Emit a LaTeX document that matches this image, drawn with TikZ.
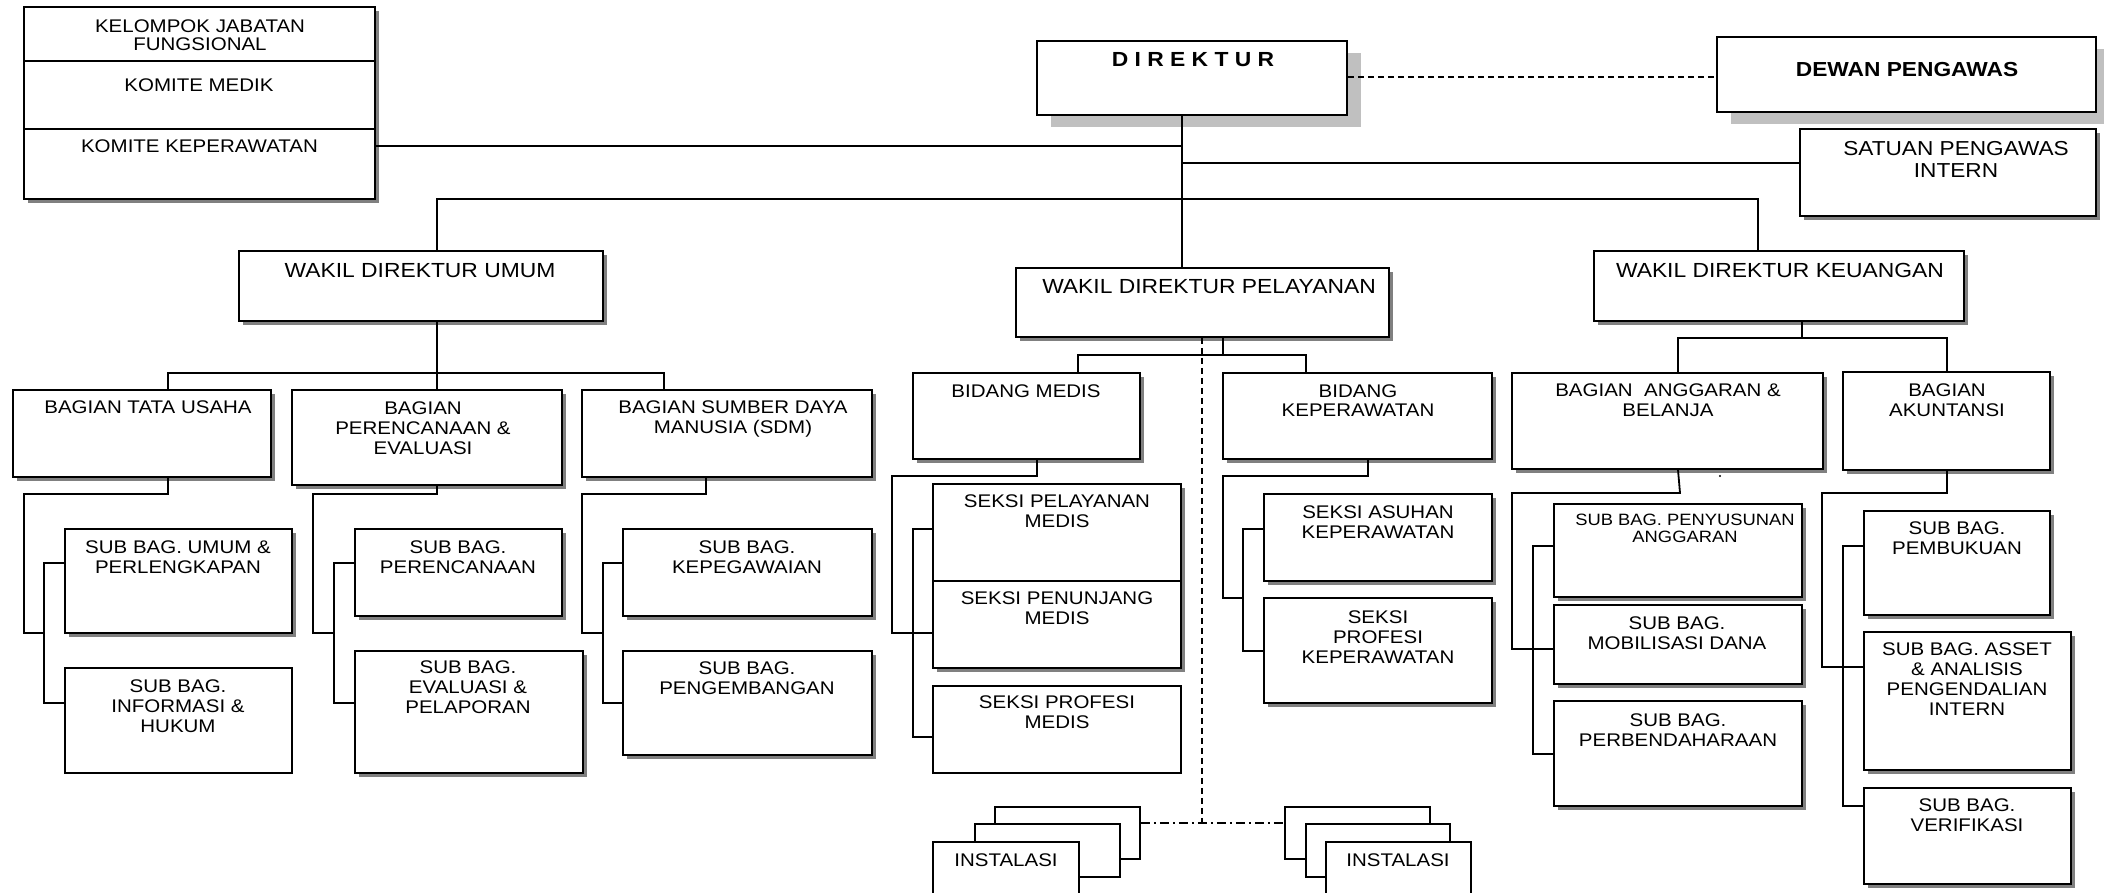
\documentclass[tikz,border=0pt]{standalone}
\usepackage{fontspec}
\setmainfont{Liberation Sans}[FakeStretch=1.12]
\usetikzlibrary{fit,shadows}
\definecolor{shd}{RGB}{128,128,128}
\definecolor{lshd}{RGB}{192,192,192}
\newcommand\fr{\fontsize{18.3}{20}\selectfont}
\tikzset{
  bx/.style={draw=black, fill=white, line width=1.8pt, inner sep=0pt},
  shbox/.style={bx, general shadow={fill=shd, shadow xshift=4pt, shadow yshift=-4pt}},
  lshbox/.style={bx, general shadow={fill=lshd, shadow xshift=14pt, shadow yshift=-12pt}},
  ln/.style={line width=1.8pt},
  dsh/.style={line width=1.6pt, dash pattern=on 6pt off 4pt},
  dd/.style={line width=1.6pt, dash pattern=on 9pt off 4pt on 2pt off 4pt},
  txt/.style={inner sep=0pt, align=center, anchor=north, font=\fr},
  wak/.style={font=\fontsize{20.4}{22}\selectfont},
  bld/.style={font=\fontsize{20.4}{22}\selectfont\bfseries},
}
\newcommand\bx[6][shbox]{\node[#1, fit={(#3,#4) (#5,#6)}] (#2) {};}
\newcommand\tx[5][]{\node[txt,#1] (#2) at (#3,{#4-16}) {\rule{0pt}{16pt}#5};}
\begin{document}
\begin{tikzpicture}[x=1pt,y=-1pt]
\path[use as bounding box, fill=white] (0,0) rectangle (2104,892);

% ---------- top level ----------
\bx{kel}{24}{7}{375}{199}
\draw[ln] (kel.west |- 0,61) -- (kel.east |- 0,61);
\draw[ln] (kel.west |- 0,129) -- (kel.east |- 0,129);
\tx[font=\fontsize{18.3}{18}\selectfont]{tkel1}{200}{32}{KELOMPOK JABATAN\\FUNGSIONAL}
\tx{tkel2}{199}{91}{KOMITE MEDIK}
\tx{tkel3}{199.5}{152}{KOMITE KEPERAWATAN}

\bx[lshbox]{dir}{1037}{41}{1347}{115}
\tx[bld]{tdir}{1193}{66}{D I R E K T U R}
\bx[lshbox]{dew}{1717}{37}{2096}{112}
\tx[bld,font=\fontsize{20.3}{22}\selectfont\bfseries]{tdew}{1907}{76}{DEWAN PENGAWAS}
\bx{spi}{1800}{129}{2096}{216}
\tx[font=\fontsize{20.2}{22}\selectfont]{tspi}{1956}{155}{SATUAN PENGAWAS\\INTERN}

\bx{wu}{239}{251}{603}{321}
\tx[wak]{twu}{420}{277}{WAKIL DIREKTUR UMUM}
\bx{wp}{1016}{268}{1389}{337}
\tx[wak]{twp}{1209}{293}{WAKIL DIREKTUR PELAYANAN}
\bx{wk}{1594}{251}{1964}{321}
\tx[wak]{twk}{1780}{277}{WAKIL DIREKTUR KEUANGAN}

% ---------- umum ----------
\bx{tu}{13}{390}{271}{477}
\tx{ttu}{148}{413}{BAGIAN TATA USAHA}
\bx{pe}{292}{390}{562}{485}
\tx{tpe}{423}{414}{BAGIAN\\PERENCANAAN \&\\EVALUASI}
\bx{sdm}{582}{390}{872}{477}
\tx{tsdm}{733}{413}{BAGIAN SUMBER DAYA\\MANUSIA (SDM)}

\bx{sbu}{65}{529}{292}{633}
\tx{tsbu}{178}{553}{SUB BAG. UMUM \&\\PERLENGKAPAN}
\bx[bx]{sbi}{65}{668}{292}{773}
\tx{tsbi}{178}{692}{SUB BAG.\\INFORMASI \&\\HUKUM}
\bx{sbp}{355}{529}{562}{616}
\tx{tsbp}{458}{553}{SUB BAG.\\PERENCANAAN}
\bx{sbe}{355}{651}{583}{773}
\tx{tsbe}{468}{673}{SUB BAG.\\EVALUASI \&\\PELAPORAN}
\bx{sbk}{623}{529}{872}{616}
\tx{tsbk}{747}{553}{SUB BAG.\\KEPEGAWAIAN}
\bx{sbg}{623}{651}{872}{755}
\tx{tsbg}{747}{674}{SUB BAG.\\PENGEMBANGAN}

% ---------- pelayanan ----------
\bx{bm}{913}{373}{1140}{459}
\tx{tbm}{1026}{397}{BIDANG MEDIS}
\bx{bk}{1223}{373}{1492}{459}
\tx[font=\fontsize{18.3}{19}\selectfont]{tbk}{1358}{397}{BIDANG\\KEPERAWATAN}
\bx{spm}{933}{484}{1181}{581}
\tx{tspm}{1057}{507}{SEKSI PELAYANAN\\MEDIS}
\bx{spn}{933}{581}{1181}{668}
\tx{tspn}{1057}{604}{SEKSI PENUNJANG\\MEDIS}
\bx[bx]{spf}{933}{686}{1181}{773}
\tx{tspf}{1057}{708}{SEKSI PROFESI\\MEDIS}
\bx{sak}{1264}{494}{1492}{581}
\tx{tsak}{1378}{518}{SEKSI ASUHAN\\KEPERAWATAN}
\bx{spk}{1264}{598}{1492}{703}
\tx{tspk}{1378}{623}{SEKSI\\PROFESI\\KEPERAWATAN}

% instalasi stacks
\bx[bx]{il1}{995}{807}{1140}{859}
\bx[bx]{il2}{975}{824}{1120}{877}
\bx[bx]{il3}{933}{842}{1079}{910}
\tx{til}{1006}{866}{INSTALASI}
\bx[bx]{ir1}{1285}{807}{1430}{859}
\bx[bx]{ir2}{1306}{824}{1450}{877}
\bx[bx]{ir3}{1326}{842}{1471}{910}
\tx{tir}{1398}{866}{INSTALASI}

% ---------- keuangan ----------
\bx{ba}{1512}{373}{1823}{469}
\tx{tba}{1668}{396}{BAGIAN\ \ ANGGARAN \&\\BELANJA}
\bx{bak}{1843}{372}{2050}{470}
\tx{tbak}{1947}{396}{BAGIAN\\AKUNTANSI}
\bx{sbpa}{1554}{504}{1802}{597}
\tx[font=\fontsize{16.4}{17}\selectfont]{tsbpa}{1685}{525}{SUB BAG. PENYUSUNAN\\ANGGARAN}
\bx{sbm}{1554}{605}{1802}{684}
\tx{tsbm}{1677}{629}{SUB BAG.\\MOBILISASI DANA}
\bx{sbb}{1554}{701}{1802}{806}
\tx{tsbb}{1678}{726}{SUB BAG.\\PERBENDAHARAAN}
\bx{sbpb}{1864}{511}{2050}{615}
\tx{tsbpb}{1957}{534}{SUB BAG.\\PEMBUKUAN}
\bx{sba}{1864}{632}{2071}{770}
\tx{tsba}{1967}{655}{SUB BAG. ASSET\\\& ANALISIS\\PENGENDALIAN\\INTERN}
\bx{sbv}{1864}{788}{2071}{884}
\tx{tsbv}{1967}{811}{SUB BAG.\\VERIFIKASI}

% ---------- connectors ----------
\draw[ln] (dir.south -| 1182,0) -- (wp.north -| 1182,0);
\draw[ln] (kel.east |- 0,146) -- (1182,146);
\draw[ln] (1182,163) -- (spi.west |- 0,163);
\draw[ln] (wu.north -| 437,0) -- (437,199) -- (1758,199) -- (wk.north -| 1758,0);
\draw[dsh] (dir.east |- 0,77) -- (dew.west |- 0,77);

\draw[ln] (wu.south -| 437,0) -- (pe.north -| 437,0);
\draw[ln] (tu.north -| 168,0) -- (168,373) -- (664,373) -- (sdm.north -| 664,0);
\draw[ln] (tu.south -| 168,0) -- (168,494) -- (24,494) -- (24,633) -- (44,633);
\draw[ln] (sbu.west |- 0,563) -- (44,563) -- (44,703) -- (sbi.west |- 0,703);
\draw[ln] (pe.south -| 437,0) -- (437,494) -- (313,494) -- (313,633) -- (334,633);
\draw[ln] (sbp.west |- 0,563) -- (334,563) -- (334,703) -- (sbe.west |- 0,703);
\draw[ln] (sdm.south -| 706,0) -- (706,494) -- (582,494) -- (582,633) -- (603,633);
\draw[ln] (sbk.west |- 0,563) -- (603,563) -- (603,703) -- (sbg.west |- 0,703);

\draw[ln] (wp.south -| 1223,0) -- (1223,355);
\draw[ln] (bm.north -| 1078,0) -- (1078,355) -- (1306,355) -- (bk.north -| 1306,0);
\draw[ln] (bm.south -| 1037,0) -- (1037,476) -- (892,476) -- (892,633) -- (spn.west |- 0,633);
\draw[ln] (spm.west |- 0,529) -- (913,529) -- (913,737) -- (spf.west |- 0,737);
\draw[ln] (bk.south -| 1368,0) -- (1368,476) -- (1223,476) -- (1223,598) -- (1243,598);
\draw[ln] (sak.west |- 0,529) -- (1243,529) -- (1243,651) -- (spk.west |- 0,651);
\draw[dsh] (wp.south -| 1202,0) -- (1202,823);
\draw[dd] (il1.east |- 0,823) -- (ir1.west |- 0,823);

\draw[ln] (wk.south -| 1802,0) -- (1802,338);
\draw[ln] (ba.north -| 1678,0) -- (1678,338) -- (1947,338) -- (bak.north -| 1947,0);
\draw[ln] (ba.south -| 1678,0) -- (1680,493) -- (1512,493) -- (1512,649) -- (sbm.west |- 0,649);
\draw[ln] (sbpa.west |- 0,546) -- (1533,546) -- (1533,754) -- (sbb.west |- 0,754);
\draw[ln] (bak.south -| 1947,0) -- (1947,493) -- (1822,493) -- (1822,667) -- (sba.west |- 0,667);
\draw[ln] (sbpb.west |- 0,546) -- (1843,546) -- (1843,806) -- (sbv.west |- 0,806);
\fill (1720,476) circle (1.2pt);
\end{tikzpicture}
\end{document}
